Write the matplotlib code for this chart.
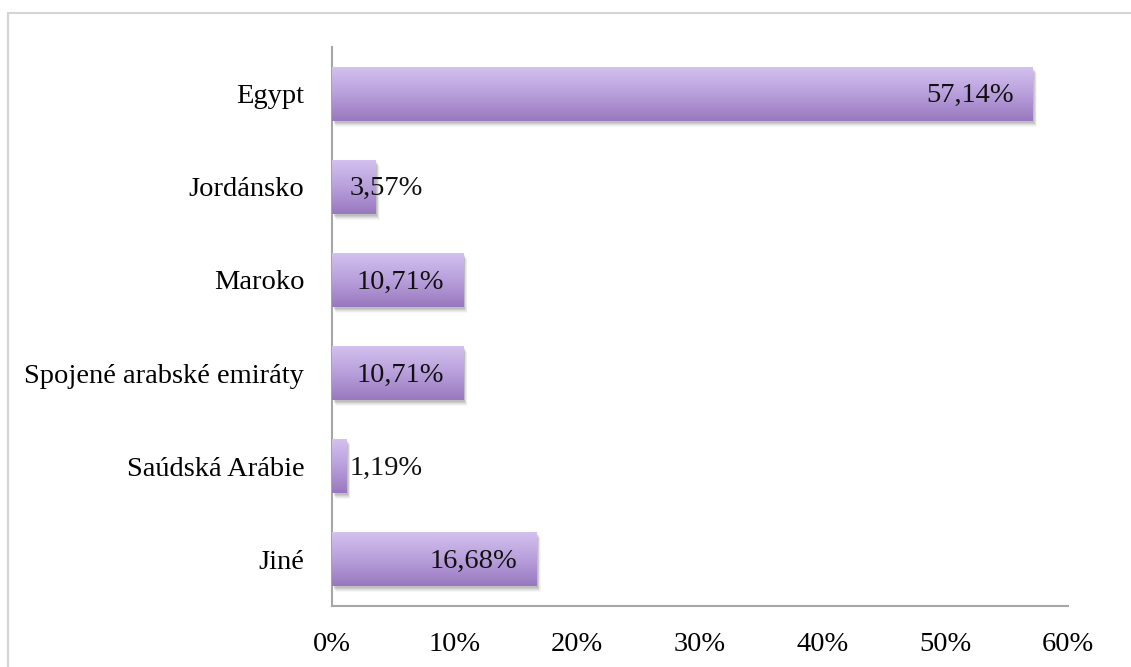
import numpy as np
import matplotlib
matplotlib.use('Agg')
import matplotlib.pyplot as plt
from matplotlib.colors import LinearSegmentedColormap
from matplotlib.patches import Rectangle
import matplotlib.transforms as mtransforms

# podíl zemí (v %)
zeme = ['Egypt', 'Jordánsko', 'Maroko', 'Spojené arabské emiráty', 'Saúdská Arábie', 'Jiné']
podil = [57.14, 3.57, 10.71, 10.71, 1.19, 16.68]
popisky = ['57,14%', '3,57%', '10,71%', '10,71%', '1,19%', '16,68%']
osa_x = [0, 10, 20, 30, 40, 50, 60]

plt.rcParams['font.family'] = ['Liberation Serif', 'DejaVu Serif']
fs = 20.5

fig = plt.figure(figsize=(11.31, 6.67), dpi=100)
ax = fig.add_axes([332 / 1131, 61 / 667, 736 / 1131, 559 / 667])

# rámeček kolem grafu
fig.patches.append(Rectangle((8 / 1131, -0.1), 1.2, (667 - 12.5) / 667 + 0.1,
                             transform=fig.transFigure, fill=False,
                             edgecolor='#d4d4d4', linewidth=1.5))

pozice = np.arange(len(zeme))[::-1]
bars = ax.barh(pozice, podil, height=0.58, color='none', edgecolor='none', zorder=3)

cmap = LinearSegmentedColormap.from_list('fialova', ['#d4c2ef', '#b9a0dc', '#9878be'])
grad = np.linspace(0, 1, 256).reshape(-1, 1)

for b in bars:
    x0, y0 = b.get_x(), b.get_y()
    w, h = b.get_width(), b.get_height()
    # stín pod sloupcem
    for i, a in enumerate([0.10, 0.10, 0.08, 0.06, 0.04]):
        off = mtransforms.offset_copy(ax.transData, fig=fig, x=1.5 + i * 0.6, y=-(2 + i * 1.0), units='dots')
        ax.add_patch(Rectangle((x0, y0), w, h, transform=off, facecolor='#404040',
                               alpha=a, edgecolor='none', zorder=2))
    im = ax.imshow(grad, cmap=cmap, aspect='auto', extent=(x0, x0 + w, y0, y0 + h),
                   origin='upper', zorder=3, interpolation='bicubic')
    im.set_clip_path(b)

# hodnoty u sloupců
for p, v, t in zip(pozice, podil, popisky):
    if v > 5:
        ax.annotate(t, (v, p), xytext=(-19, -2), textcoords='offset pixels',
                    ha='right', va='center', fontsize=fs, color='#111111', zorder=5)
    else:
        ax.annotate(t, (0, p), xytext=(18, -2), textcoords='offset pixels',
                    ha='left', va='center', fontsize=fs, color='#111111', zorder=5)

ax.set_xlim(0, 60)
ax.set_ylim(-0.5, len(zeme) - 0.5)
ax.set_yticks(pozice)
ax.set_yticklabels(zeme, fontsize=fs)
ax.set_xticks(osa_x)
ax.set_xticklabels([f'{v}%' for v in osa_x], fontsize=fs)
ax.tick_params(axis='y', length=0, pad=20)
ax.tick_params(axis='x', length=0, pad=19)

for s in ['top', 'right']:
    ax.spines[s].set_visible(False)
for s in ['left', 'bottom']:
    ax.spines[s].set_color('#a6a6a6')
    ax.spines[s].set_linewidth(1.5)

fig.savefig('out.png', dpi=100)
